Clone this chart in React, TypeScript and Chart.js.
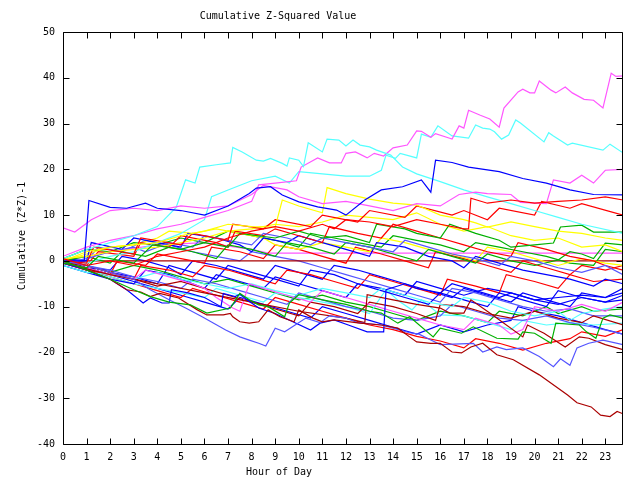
import React, { useEffect, useRef } from "react";
import { Chart, registerables } from "chart.js";

Chart.register(...registerables);

const TITLE = "Cumulative Z-Squared Value";
const X_TITLE = "Hour of Day";
const Y_TITLE = "Cumulative (Z*Z)-1";
const HOUR_TICKS = [0, 1, 2, 3, 4, 5, 6, 7, 8, 9, 10, 11, 12, 13, 14, 15, 16, 17, 18, 19, 20, 21, 22, 23];
const Y_TICKS = [-40, -30, -20, -10, 0, 10, 20, 30, 40, 50];
const X_MIN = 0;
const X_MAX = 23.75;
const Y_MIN = -40;
const Y_MAX = 50;

const RED = "#ff0000";
const GREEN = "#00b000";
const BLUE = "#0000ff";
const MAGENTA = "#ff55ff";
const CYAN = "#55ffff";
const DARKRED = "#aa0000";
const YELLOW = "#ffff00";
const SLATE = "#5555ff";

type P = [number, number];

const s01: P[] = [[0,1],[1,3],[2,4.5],[3,5.5],[4,7],[5,8],[6,9.5],[7,11],[8,13],[8.3,16.6],[9,17],[9.9,17.5],[10.1,20.5],[10.8,22.5],[11.3,21.4],[11.8,21.4],[12,23.5],[12.4,23.8],[12.9,22.5],[13.2,23.5],[13.6,22.9],[14,24.7],[14.6,25.3],[15,28.4],[15.2,28.3],[15.6,27],[15.8,27.8],[16.4,26.8],[16.5,26.6],[16.8,29.5],[17,29],[17.2,32.9],[17.7,31.8],[18.1,31],[18.5,29.2],[18.7,33.4],[19.3,36.9],[19.5,37.5],[19.8,36.7],[20,36.7],[20.2,39.3],[20.7,37.3],[20.9,36.7],[21.3,38],[21.6,36.7],[22.1,35.3],[22.5,35.1],[22.9,33.4],[23.25,41],[23.45,40.3],[23.75,40.4]];
const s02: P[] = [[0,0.5],[1,2.5],[2,4],[3,5.5],[4,7.5],[4.8,11.7],[5.2,17.7],[5.6,17],[5.8,20.5],[6.5,21],[7.1,21.4],[7.2,24.8],[7.6,23.8],[8.2,22],[8.5,21.8],[8.8,22.4],[9.3,21.3],[9.5,20.7],[9.6,22.5],[10,22],[10.2,20.6],[10.4,25.8],[11,23.8],[11.2,26.6],[11.7,26.4],[12,25.1],[12.3,26.4],[12.6,25.3],[13,24.9],[13.3,24.2],[13.9,23.1],[14.4,20.5],[15,19],[16,17.3],[17,15.5],[18,14],[19,12.5],[20,11],[21,9.5],[22,8],[23.75,6]];
const s03: P[] = [[0,0],[1,-0.5],[2,1],[3,2],[4,4],[5,6],[6,9],[6.3,14],[7,15.5],[8,17.5],[9,18.5],[9.6,17],[10,19.5],[11,19],[12,18.5],[13,18.5],[13.5,19.8],[13.7,23.1],[14.1,22.4],[14.3,23.5],[15,22.5],[15.2,27.7],[15.6,27],[15.9,29.5],[16.5,27.3],[17.2,26.8],[17.5,29.7],[17.8,29],[18.1,28.8],[18.3,28.2],[18.6,26.6],[18.9,27.5],[19.2,30.8],[19.4,30.1],[20.4,26],[20.6,28],[20.8,27.3],[21.4,25.3],[21.6,25.7],[22.9,24.2],[23.2,25.5],[23.75,23.6]];
const s04: P[] = [[0,7.2],[0.5,6.3],[1.2,9],[2,11],[3,11.5],[4,11],[5,12],[6,11.5],[7,12],[8,14.5],[8.5,16.5],[9.5,15.5],[10,14],[11,12.5],[12,13],[13,12],[14,11],[15,12.5],[16,12],[16.8,14.5],[17.5,15],[18,14.7],[19,14.5],[19.4,12.8],[20.5,12.5],[20.8,17.7],[21.5,17],[22,18.7],[22.5,17],[23,19.8],[23.75,20]];
const s05: P[] = [[0,0],[0.9,0],[1.1,13.2],[2,11.7],[2.7,11.5],[3.5,12.6],[4,11.5],[5,11],[6,10],[7,12],[7.9,14.7],[8.2,15.9],[8.8,16.2],[9.3,14.4],[10,12.9],[10.8,11.8],[11.6,11.1],[12,10],[12.8,13.3],[13.5,15.5],[14.4,16.2],[15.2,17.7],[15.6,15],[15.8,22],[16.5,21.5],[17.2,20.5],[18.5,19.5],[19.5,18],[20.5,17],[21.5,15.5],[22.5,14.5],[23.75,14.4]];
const s06: P[] = [[0,0.5],[1,-1],[2,0],[3,-1],[4,1],[5,2],[6,3],[7,5],[8,6.5],[9,7.5],[10,6.5],[11,8],[11.5,7],[12,9],[13,8.5],[14,7.5],[15,9],[16,8],[17,7],[17.2,7],[17.3,13.7],[18,12.6],[19,13.3],[20,12.6],[21,13],[22,13.3],[23,14],[23.75,13.3]];
const s07: P[] = [[0,0],[1,-0.5],[1.3,3],[3,1.5],[3.3,5],[5,3.5],[5.5,6],[7,4.5],[7.2,8],[8.5,7],[9,9],[10.5,7.5],[11,10],[12.5,8.5],[13,11],[14.5,9.5],[15,12],[16.5,10],[17,11],[18,9],[18.5,11.5],[20,10],[20.3,13],[21.5,11.5],[22,12.5],[23.75,10]];
const s08: P[] = [[0,-0.5],[1,-1.5],[1.5,1],[3,-0.5],[3.8,3.5],[5,2.5],[6,4],[7,3],[7.5,6],[9,5],[10,6.5],[11,5],[12,5.5],[13,4],[13.3,8],[14.5,7],[15,6],[16,5],[16.4,8],[17.5,6],[18.5,4.5],[19,3],[20,3.5],[20.8,3.9],[21.1,7.4],[22,7.8],[22.5,6.3],[23.75,6.3]];
const s09: P[] = [[0,0],[1,2],[2,3],[3,3.5],[4,4],[5,5.5],[6,6.5],[7,8],[8,7.5],[9,7.4],[9.3,13.3],[10,12],[11,10.5],[11.2,16],[12,14.7],[13,13.5],[14,12.6],[15,12.2],[16,10],[17,9],[17.5,8.3],[18,7.4],[19,8.5],[20,7.5],[21,6.5],[22,6],[23,5],[23.75,4.5]];
const s10: P[] = [[0,0.5],[1,1],[2,2],[3,2.5],[4,3],[5,4],[6,5],[7,6.5],[8,7],[9,8],[10,7.5],[11,8.5],[12,10],[13,9.5],[14,9],[15,10.5],[16,8],[17,6.5],[18,7.5],[19,5.5],[20,4.5],[21,5],[22,3],[23,3.5],[23.75,2]];
const s11: P[] = [[0,0],[2,2],[4,3.5],[6,4],[8,2.5],[8.7,1.7],[23.75,1.7]];
const s12: P[] = [[0,0],[23.75,0]];
const s13: P[] = [[0,0],[1,-2],[2,-4],[2.7,-6.3],[3.3,-6.8],[3.7,-7.8],[4.1,-7.1],[4.9,-8.1],[5.7,-10.7],[6.1,-11.8],[6.8,-11.8],[7.1,-11.5],[7.2,-12.2],[7.5,-13.3],[7.9,-13.6],[8.3,-13.3],[8.7,-10.7],[9.2,-12.2],[9.8,-13.3],[10,-10.7],[10.6,-12.5],[11,-13.3],[11.5,-12.9],[12.6,-13.6],[13.5,-14],[14.2,-14.7],[14.7,-16.6],[15,-17.7],[15.6,-18],[16,-18],[16.5,-19.9],[16.9,-20.1],[17.3,-18.8],[17.8,-18],[18.4,-20.5],[19.1,-21.6],[20.2,-24.9],[21.4,-29.3],[21.8,-31],[22.4,-31.9],[22.8,-33.7],[23.2,-34],[23.5,-32.9],[23.75,-33.4]];
const s14: P[] = [[0,-0.5],[2,-3],[4,-5],[6,-7],[8,-9],[10,-11],[12,-12.5],[12.8,-13.5],[12.9,-7.4],[14,-8.5],[15,-9.5],[16,-10.3],[16.4,-11.4],[17,-11.4],[17.3,-8.5],[18.1,-11.4],[19.5,-16.6],[19.7,-14],[20.4,-15.8],[21.3,-18.8],[21.9,-16.6],[22.3,-16.9],[23,-18.3],[23.75,-19.4]];
const s15: P[] = [[0,0],[1,-1],[2,-2.5],[3,-4],[3.7,-6.3],[4.5,-8.5],[5.2,-10.3],[5.9,-12.2],[6.9,-15.1],[7.5,-16.6],[7.9,-17.3],[8.3,-18],[8.6,-18.6],[9,-14.7],[9.4,-15.5],[10.3,-12.5],[10.9,-13.5],[11.3,-12],[12,-12.5],[12.5,-13.5],[13.5,-14],[14.7,-15.7],[15.1,-16],[15.6,-17.3],[16,-18.3],[17.4,-18],[17.8,-19.9],[18.4,-18.8],[18.8,-19.4],[19.5,-19],[20.2,-20.9],[20.8,-23.1],[21.1,-21.4],[21.5,-22.8],[21.8,-19],[22.3,-18],[22.9,-17.3],[23.75,-18.3]];
const s16: P[] = [[0,0],[1,-2],[2,-4],[3,-6.3],[3.7,-7.8],[4.5,-9],[5.4,-9.6],[6.1,-11.4],[7.1,-10.3],[7.5,-7.1],[7.9,-8.5],[8.3,-9.6],[8.7,-10],[9.4,-12.2],[9.6,-9.2],[10,-7.4],[11,-8.5],[12,-9.5],[13,-11],[13.5,-11.4],[14.2,-13.6],[14.7,-12.2],[15.7,-16.6],[16,-14.7],[16.9,-15.8],[17.4,-14.4],[18.4,-16.9],[19.3,-17.1],[19.5,-15.5],[20,-15.8],[20.7,-18],[20.9,-13.6],[21.9,-14],[22.2,-15.5],[22.6,-16.9],[22.9,-12.5],[23.2,-11.8],[23.75,-12.5]];
const s17: P[] = [[0,-0.5],[1,-2],[2,-4],[2.7,-6.3],[3.4,-9.2],[3.7,-8.1],[4.2,-9.2],[4.5,-9.2],[4.6,-6.3],[5.3,-7],[6,-8],[6.7,-10],[6.8,-7.1],[7.3,-7.8],[7.5,-7.3],[7.8,-8.5],[8.3,-10.3],[9,-11.5],[10.5,-15.1],[10.9,-13.6],[11.5,-12.9],[12.1,-14],[12.9,-15.5],[13.6,-15.5],[13.7,-6.3],[14.5,-5],[15,-6],[16,-7],[16.5,-5],[17.5,-6.5],[18.5,-8],[19,-7],[20,-8.5],[21,-8],[22,-7.5],[23,-8],[23.75,-7]];
const s18: P[] = [[0,0],[1,-1],[1.5,2],[3,1],[3.3,4],[4.5,3],[5,5.5],[6.5,4],[7,3],[7.3,6.5],[8.5,5.5],[9,7],[10,5.5],[11,4],[11.3,7.5],[12.5,6],[13.5,5],[14,8],[15,6.5],[16,5],[17,3.5],[18,2],[19,1],[19.3,4],[20.5,2.5],[21.5,1],[22.5,0],[23,-1],[23.75,-2]];
const s19: P[] = [[0,0.5],[1,0],[1.2,4],[2.5,2.5],[3,5],[4,4],[5,3],[5.3,6],[6.5,5],[7.5,3.5],[8,2],[8.5,5],[9.5,4],[10,5.5],[11,4],[12,2.5],[13,1],[13.3,4],[14.5,3],[15.5,1],[16.5,0],[17,-1.5],[17.5,1],[18.5,-0.5],[19.5,-2],[20.5,-3],[21.5,-4],[22.5,-5.5],[23,-4],[23.75,-5]];
const s20: P[] = [[0,-0.5],[1,0.5],[2,2],[3,3],[3.5,2],[4.5,4],[5.5,3],[6,5.5],[7,4.5],[8,3.5],[8.5,6],[9.5,5],[10.5,3.5],[11,5],[12,4],[13,3],[14,2],[14.5,4.5],[15.5,3],[16.5,1.5],[17.5,0.5],[18.5,-1],[19,1],[20,0],[21,-1.5],[22,-2.5],[23,-1],[23.75,-3]];
const s21: P[] = [[0,-1],[1,-2.5],[2,-3],[3,-4],[4,-2.5],[5,-4],[6,-5],[7,-6],[8,-5],[9,-6.5],[10,-7.5],[11,-6],[12,-7],[13,-8],[13.5,-6],[14.5,-7.5],[15.5,-9],[16.5,-10],[17,-8],[18,-9],[19,-11],[20,-12],[21,-11],[21.5,-13],[22,-11.5],[23,-10.5],[23.75,-10]];
const s22: P[] = [[0,-0.5],[1,-2],[2,-3],[2.3,0],[3.5,-1],[4,1.5],[5,0.5],[6,-0.5],[6.3,3],[7.5,2],[8.5,0.5],[9,3.5],[10,2.5],[11,1],[12,-0.5],[12.4,3],[13.5,1.5],[14.5,0],[15.5,-1.5],[15.8,2],[17,0.5],[18,-1],[19,-2.5],[19.5,0],[20.5,-1.5],[21.5,-3],[22,-1],[23,-2],[23.75,-1]];
const s23: P[] = [[0,0.5],[1,-1],[2,-2.5],[3,-4],[3.3,-1],[4.5,-2],[5.5,-3.5],[6,-1],[7,-2],[8,-3.5],[9,-5],[9.5,-2],[10.5,-3],[11.5,-4.5],[12.5,-6],[13,-3],[14,-4.5],[15,-6],[16,-7.5],[16.3,-4],[17.5,-5.5],[18.5,-7],[18.8,-3],[20,-4.5],[21,-6],[21.5,-3],[22.5,-4.5],[23.75,-4]];
const s24: P[] = [[0,-1],[1,-2.5],[2,-4],[3,-5],[3.5,-2],[4.5,-3],[5.5,-5],[6,-6],[6.5,-3],[7.5,-4.5],[8.5,-6],[9,-3.5],[10,-5],[11,-6.5],[12,-8],[12.5,-5],[13.5,-6.5],[14.5,-8],[15.5,-9.5],[16,-7],[17,-8.5],[18,-10],[18.5,-7],[19.5,-8.5],[20.5,-10],[21,-6.5],[22,-8],[23,-9],[23.75,-7.5]];
const s25: P[] = [[0,0],[1,1],[2,-0.5],[2.5,2],[3.5,1],[4.5,3],[5.5,2],[6.5,0.5],[7,3.5],[8,2.5],[9,1],[9.5,4],[10.5,3],[11.5,1.5],[12,4],[13,3],[14,1.5],[15,0],[15.5,2.5],[16.5,1],[17.5,-0.5],[18,1.5],[19,0],[20,-1],[21,0.2],[21.5,2],[22,1.5],[22.5,0.5],[23,3.9],[23.75,3.5]];
const s26: P[] = [[0,-0.5],[1,-1.5],[2,-3],[3,-4],[3.5,-2],[4.5,-3.5],[5.5,-5],[6,-6],[6.5,-8],[7.2,-10.3],[7.5,-11],[7.7,-8],[7.9,-5],[8.5,-6],[9.5,-7.5],[10.5,-9],[11,-6.5],[12,-8],[13,-9.5],[14,-11],[15,-12.5],[16,-14],[17,-15],[17.5,-12.5],[18.5,-14],[19,-16],[19.5,-15],[20,-10],[21,-11],[22,-9.5],[23,-11],[23.75,-9]];
const s27: P[] = [[0,-1],[1,-2.5],[2,-3.5],[3,-5],[4,-6],[5,-7],[6,-8],[6.5,-6],[7.5,-7.5],[8.5,-9],[9,-7],[10,-8],[11,-9],[12,-10],[13,-11.5],[13.7,-6.3],[14.3,-9],[14.8,-10.7],[15.2,-8.5],[16,-11.8],[17,-12],[18,-13.5],[19,-15],[19.5,-13],[20.5,-14],[21.5,-13.5],[22.5,-14],[23.75,-13.6]];
const s28: P[] = [[0,0],[1,-1.5],[2,-2],[2.5,1],[3.5,0],[4.5,-1.5],[5,-3],[5.5,0],[6.5,-1],[7.5,-2.5],[8.5,-4],[9,-1],[10,-2.5],[11,-4],[11.5,-1],[12.5,-2],[13.5,-3.5],[14.5,-5],[15.5,-6.5],[16.5,-8],[17,-6],[18,-7.5],[19,-9],[19.5,-7],[20.5,-8.5],[21.5,-10],[22,-7],[23,-8],[23.75,-6]];
const s29: P[] = [[0,0],[1,-1],[2,-2],[3,-3.5],[4,-4.5],[5,-6],[5.5,-4],[6.5,-5],[7.5,-6.5],[8.5,-8],[9.5,-9.5],[10,-7],[11,-8.5],[12,-10],[13,-11],[14,-12.5],[15,-13],[16,-12],[16.5,-9.5],[17.5,-11],[18.5,-12.5],[19.5,-13],[20.5,-12],[21.5,-13.5],[22.5,-14.5],[23.75,-16]];
const s30: P[] = [[0,-0.5],[1,0],[1.5,3],[2.5,2],[3.5,4.5],[4.5,3.5],[5.5,2],[6.5,1],[7.5,0],[8,2],[9,1],[10,0],[11,-1.5],[12,-3],[13,-4.5],[14,-6],[15,-7.5],[16,-9],[16.5,-6],[17.5,-7],[18.5,-8.5],[19.5,-10],[20.5,-11],[21.5,-10.5],[22.5,-12],[23.75,-12]];
const s31: P[] = [[0,0],[1,-1],[2,-2.5],[3,-3.5],[4,-5],[4.5,-1],[5.5,-2.5],[6.5,-4],[7,-1],[8,-2.5],[9,-4],[10,-5.5],[10.5,-2],[11.5,-3],[12.5,-5],[13.5,-6],[14.5,-7.5],[15,-4.5],[16,-6],[17,-7.5],[18,-6],[19,-7],[20,-8.5],[21,-9.5],[22,-8],[23,-9],[23.75,-8.5]];
const s32: P[] = [[0,0.5],[1,2.5],[2,2],[3,4],[4,3.5],[5,5],[6,4],[7,6.5],[8,5.5],[9,4.5],[10,3],[10.5,6],[11.5,5],[12.5,4],[13.5,3],[14,5.5],[15,4.5],[16,3.5],[17,2],[17.5,4],[18.5,3],[19.5,2],[20.5,1],[21.5,-0.5],[22.5,-1],[23,2.5],[23.75,2]];
const s33: P[] = [[0,0],[1,-1.5],[2,-3],[3,-4],[4,-5.5],[5,-4.5],[6,-6],[7,-7.5],[8,-9],[9,-10.5],[10,-12],[10.5,-9],[11.5,-10],[12.5,-11.5],[13,-9],[14,-10],[15,-11.5],[15.8,-13],[16,-9.5],[17,-10],[18,-11.5],[19,-12.5],[20,-11],[21,-12.5],[22,-13.5],[22.5,-12],[23.75,-14]];
const s34: P[] = [[0,-0.5],[1,-2],[2,-3.5],[3,-5],[4,-6.5],[5,-8],[5.5,-6],[6.5,-7.5],[7.5,-9],[8.5,-10.5],[9,-8],[10,-9.5],[11,-11],[12,-12.5],[13,-14],[14,-15],[15,-16.5],[16,-17.5],[17,-19],[17.5,-17],[18.5,-18],[19.5,-19.5],[20.5,-18],[21.5,-17],[22,-15.5],[23,-16.5],[23.75,-15]];
const s35: P[] = [[0,0],[1,-1.5],[2,-3],[3,-4.5],[4,-6],[5,-7.5],[6,-9],[7,-10.5],[7.5,-8],[8.5,-9.5],[9.5,-11],[10.5,-12.5],[11,-10],[12,-11.5],[13,-13],[14,-14.5],[15,-16],[16,-14],[17,-15.5],[18,-14],[19,-13],[19.3,-10],[20,-11],[21,-12],[22,-13.5],[23,-15],[23.75,-16]];
const s36: P[] = [[0,0],[1,1.5],[2,3],[3,3.5],[4,5],[4.5,6.5],[5.5,6],[6.5,7],[7.5,6],[8.5,5],[9,3.5],[10,2.5],[11,4],[12,3],[13,2],[13.5,5],[14.5,4],[15.5,2.5],[16.5,1.5],[17.5,0],[18,3],[19,2],[20,0.5],[21,-1],[22,0.5],[23,-0.5],[23.75,-1]];
const s37: P[] = [[0,0],[1,-1],[2,-2.5],[3,-1],[4,-2],[5,-3.5],[6,-5],[7,-4],[8,-5.5],[9,-7],[10,-8.5],[11,-7.5],[12,-9],[13,-10],[14,-11.5],[15,-13],[16,-11],[17,-12],[18,-13.5],[18.5,-11],[19.5,-12],[20.5,-10],[21,-11.5],[22,-10],[22.5,-11],[23.75,-10.5]];

const SERIES: { color: string; points: P[] }[] = [
  { color: RED, points: s06 },
  { color: GREEN, points: s16 },
  { color: BLUE, points: s05 },
  { color: MAGENTA, points: s04 },
  { color: CYAN, points: s02 },
  { color: DARKRED, points: s13 },
  { color: YELLOW, points: s09 },
  { color: SLATE, points: s15 },
  { color: RED, points: s07 },
  { color: GREEN, points: s08 },
  { color: BLUE, points: s17 },
  { color: MAGENTA, points: s01 },
  { color: CYAN, points: s03 },
  { color: DARKRED, points: s14 },
  { color: YELLOW, points: s10 },
  { color: SLATE, points: s20 },
  { color: RED, points: s18 },
  { color: GREEN, points: s25 },
  { color: BLUE, points: s19 },
  { color: MAGENTA, points: s26 },
  { color: CYAN, points: s21 },
  { color: DARKRED, points: s33 },
  { color: YELLOW, points: s36 },
  { color: SLATE, points: s29 },
  { color: RED, points: s22 },
  { color: GREEN, points: s32 },
  { color: BLUE, points: s24 },
  { color: MAGENTA, points: s11 },
  { color: CYAN, points: s27 },
  { color: DARKRED, points: s12 },
  { color: SLATE, points: s30 },
  { color: RED, points: s23 },
  { color: GREEN, points: s37 },
  { color: BLUE, points: s28 },
  { color: RED, points: s34 },
  { color: BLUE, points: s31 },
  { color: BLUE, points: s35 },
];

const FONT = '"DejaVu Sans Mono", monospace';

const framePlugin = {
  id: "gnuframe",
  afterDraw(chart: any) {
    const { ctx, chartArea: a, scales } = chart;
    const x = scales.x;
    const y = scales.y;
    const L = Math.round(a.left) + 0.5;
    const R = Math.round(a.right) - 0.5;
    const T = Math.round(a.top) + 0.5;
    const B = Math.round(a.bottom) + 0.5;
    ctx.save();
    ctx.strokeStyle = "#000";
    ctx.lineWidth = 1;
    ctx.beginPath();
    ctx.rect(L, T, R - L, B - T);
    for (const h of HOUR_TICKS) {
      const px = Math.round(x.getPixelForValue(h)) + 0.5;
      ctx.moveTo(px, B);
      ctx.lineTo(px, B - 6);
      ctx.moveTo(px, T);
      ctx.lineTo(px, T + 6);
    }
    for (const v of Y_TICKS) {
      const py = Math.round(y.getPixelForValue(v)) + 0.5;
      ctx.moveTo(L, py);
      ctx.lineTo(L + 6, py);
      ctx.moveTo(R, py);
      ctx.lineTo(R - 6, py);
    }
    ctx.stroke();
    ctx.fillStyle = "#000";
    ctx.font = "10px " + FONT;
    ctx.textAlign = "center";
    ctx.textBaseline = "middle";
    ctx.fillText(TITLE, 278, 16);
    ctx.fillText(X_TITLE, 279, 472);
    ctx.translate(22, 236);
    ctx.rotate(-Math.PI / 2);
    ctx.fillText(Y_TITLE, 0, 0);
    ctx.restore();
  },
};

export default function App() {
  const ref = useRef<HTMLCanvasElement | null>(null);
  useEffect(() => {
    if (!ref.current) return;
    const chart = new Chart(ref.current, {
      type: "line",
      data: {
        datasets: SERIES.map((s, i) => ({
          label: "s" + i,
          data: s.points.map(([h, v]) => ({ x: h, y: v })),
          borderColor: s.color,
          borderWidth: 1.2,
          pointRadius: 0,
          fill: false,
          tension: 0,
        })),
      },
      options: {
        responsive: false,
        animation: false,
        layout: { padding: { top: 32, right: 17, left: 0, bottom: 0 } },
        plugins: { legend: { display: false }, tooltip: { enabled: false }, title: { display: false } },
        scales: {
          x: {
            type: "linear",
            min: X_MIN,
            max: X_MAX,
            afterBuildTicks: (s: any) => {
              s.ticks = HOUR_TICKS.map((v) => ({ value: v }));
            },
            afterFit: (s: any) => {
              s.height = 36;
            },
            grid: { display: false, drawTicks: false },
            border: { display: false },
            ticks: { padding: 7, color: "#000", font: { family: FONT, size: 10 }, maxRotation: 0, autoSkip: false },
          },
          y: {
            type: "linear",
            min: Y_MIN,
            max: Y_MAX,
            afterBuildTicks: (s: any) => {
              s.ticks = Y_TICKS.map((v) => ({ value: v }));
            },
            afterFit: (s: any) => {
              s.width = 63;
            },
            grid: { display: false, drawTicks: false },
            border: { display: false },
            ticks: { padding: 8, color: "#000", font: { family: FONT, size: 10 } },
          },
        },
      },
      plugins: [framePlugin],
    });
    return () => chart.destroy();
  }, []);
  return (
    <div style={{ position: "absolute", left: 0, top: 0, width: 640, height: 480, background: "#fff" }}>
      <canvas ref={ref} width={640} height={480} style={{ display: "block" }} />
    </div>
  );
}
